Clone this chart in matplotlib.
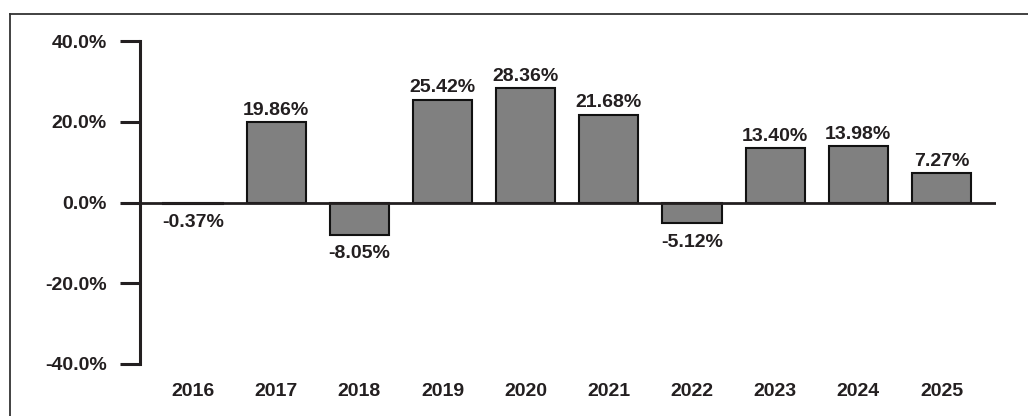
import matplotlib
matplotlib.use("Agg")
import matplotlib.pyplot as plt
from matplotlib.lines import Line2D

years = ["2016", "2017", "2018", "2019", "2020", "2021", "2022", "2023", "2024", "2025"]
returns = [-0.37, 19.86, -8.05, 25.42, 28.36, 21.68, -5.12, 13.40, 13.98, 7.27]
yticks = [-40, -20, 0, 20, 40]
ytick_labels = ["-40.0%", "-20.0%", "0.0%", "20.0%", "40.0%"]

TXT = "#231f20"
FS = 14
plt.rcParams['font.family'] = ['Liberation Sans', 'DejaVu Sans']
plt.rcParams['font.weight'] = 'bold'

fig = plt.figure(figsize=(10.28, 4.16), dpi=100)
ax = fig.add_axes([140/1028, 1-364/416, (996-140)/1028, (364-41)/416])

x = list(range(len(years)))
ax.bar(x, returns, width=0.71, color="#808080", edgecolor="#111111", linewidth=1.5, zorder=2)
ax.axhline(0, color=TXT, linewidth=2, zorder=3)

for xi, v in zip(x, returns):
    label = f"{v:.2f}%"
    if v >= 0:
        ax.annotate(label, (xi, v), xytext=(0, 2.5), textcoords="offset points",
                    ha="center", va="bottom", fontsize=FS, fontweight="bold", color=TXT)
    else:
        ax.annotate(label, (xi, v), xytext=(0, -7.5), textcoords="offset points",
                    ha="center", va="top", fontsize=FS, fontweight="bold", color=TXT)

ax.set_xlim(-0.637, 9.655)
ax.set_ylim(-40, 40)
ax.set_yticks(yticks)
ax.set_yticklabels(ytick_labels)
ax.set_xticks(x)
ax.set_xticklabels(years)

for s in ["top", "right", "bottom"]:
    ax.spines[s].set_visible(False)
ax.spines["left"].set_color(TXT)
ax.spines["left"].set_linewidth(2.2)

ax.tick_params(axis="y", length=14.5, width=2.2, color=TXT, pad=9.5, labelsize=FS, labelcolor=TXT, direction="out")
ax.tick_params(axis="x", length=0, pad=13.5, labelsize=FS, labelcolor=TXT)
for lab in ax.get_xticklabels() + ax.get_yticklabels():
    lab.set_fontweight("bold")

# figure border (top and left)
fig.add_artist(Line2D([9.5/1028, 9.5/1028], [0, 1-14/416], transform=fig.transFigure, color="#333333", linewidth=1.3))
fig.add_artist(Line2D([9.5/1028, 1], [1-14/416, 1-14/416], transform=fig.transFigure, color="#333333", linewidth=1.3))

fig.savefig("out.png", dpi=100)
